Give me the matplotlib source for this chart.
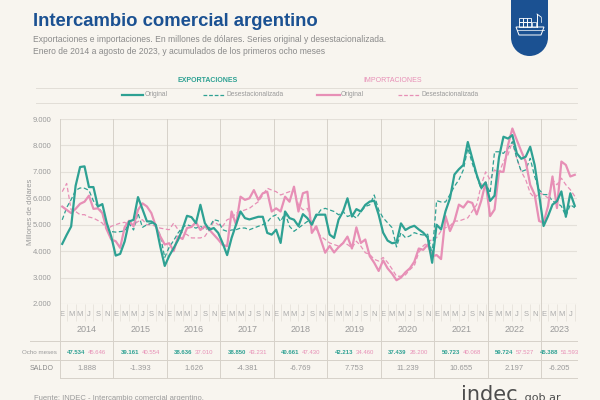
import numpy as np
import matplotlib
matplotlib.use("Agg")
import matplotlib.pyplot as plt
from matplotlib import transforms
from matplotlib.patches import Polygon, Rectangle, Wedge

plt.rcParams['font.family'] = ['Liberation Sans', 'DejaVu Sans']

# ---------------- data ----------------
years = [2014, 2015, 2016, 2017, 2018, 2019, 2020, 2021, 2022, 2023]
month_letters = ['E', 'F', 'M', 'A', 'M', 'J', 'J', 'A', 'S', 'O', 'N', 'D']

expo = [
    4275, 4617, 4933, 6470, 7183, 7208, 6424, 6424, 5690, 5780, 5060, 4553,
    3832, 3896, 4364, 5121, 5185, 6045, 5590, 5128, 5121, 4996, 4174, 3441,
    3820, 4112, 4427, 4840, 5337, 5286, 5060, 5754, 5060, 4810, 4875, 4690,
    4300, 3850, 4500, 5000, 5500, 5250, 5200, 5250, 5300, 5300, 4690, 4625,
    4810, 4310, 5500, 5250, 5190, 4950, 5400, 5250, 5000, 5380, 5380, 5380,
    4625, 4500, 5190, 5500, 6000, 5310, 5590, 5500, 5750, 5875, 5910, 5380,
    4700, 4400, 4300, 4330, 5050, 4800, 4900, 4960, 4820, 4700, 4510, 3560,
    5000, 4820, 5510, 6000, 6900, 7100, 7260, 8130, 7510, 6890, 6400, 6600,
    5900, 6100, 7550, 8330, 8260, 8390, 7700, 7494, 7575, 7950, 7260, 6140,
    4950, 5325, 5760, 5890, 6260, 5300, 6190, 5713]

expo_d = [
    5185, 5650, 5950, 6300, 6390, 6380, 6300, 5900, 5690, 5440, 4810, 4740,
    4720, 4740, 4760, 5050, 4800, 5440, 4900, 5000, 5060, 4940, 4600, 3760,
    4150, 4400, 4690, 4900, 5000, 4940, 4870, 4950, 4810, 4900, 5190, 5150,
    4810, 4750, 4800, 4810, 4875, 4875, 4810, 4875, 4940, 5000, 5100, 5300,
    5375, 5125, 5440, 4940, 4750, 4875, 5000, 5125, 5060, 5310, 5560, 5620,
    5560, 5500, 5375, 5500, 5310, 5375, 5250, 5500, 5690, 5750, 6125, 5560,
    5260, 5075, 4890, 4160, 4700, 4510, 4575, 4700, 4640, 4610, 4640, 3890,
    5910, 5860, 5860, 6140, 6450, 6700, 7075, 7890, 7325, 6825, 6350, 6600,
    6200, 7760, 7760, 7700, 7890, 8140, 7510, 7010, 7075, 7510, 6825, 6325,
    6140, 6140, 5890, 5825, 5700, 5325, 5760, 5640]

impo = [
    5686, 5560, 5440, 5600, 5790, 5870, 6100, 5600, 5620, 5440, 4810, 4440,
    4375, 4125, 4900, 5150, 4940, 5560, 5810, 5690, 5440, 4940, 4560, 4250,
    4300, 4000, 4560, 4460, 4875, 4915, 5100, 4800, 4940, 4810, 4625, 4440,
    4231, 4190, 5500, 5000, 6060, 5940, 6000, 6310, 5940, 6190, 6250, 5500,
    5620, 5500, 6060, 5870, 6440, 5500, 6190, 6250, 4690, 4940, 4440, 3940,
    4200, 3950, 4150, 4300, 4550, 4100, 4900, 4310, 4440, 3810, 3560, 3250,
    3650, 3350, 3150, 2900, 3000, 3200, 3350, 3600, 4100, 4050, 4250, 3800,
    3853, 3700, 5325, 4760, 5140, 5760, 5650, 5880, 5825, 5390, 5900, 6600,
    5325, 5575, 7010, 7000, 8000, 8640, 8200, 7777, 7390, 6510, 6140, 5140,
    5075, 5700, 6825, 5630, 7390, 7260, 6825, 6888]

impo_d = [
    6250, 6560, 5560, 5500, 5380, 5380, 5290, 5250, 5160, 5060, 4810, 4940,
    5000, 5060, 5090, 5000, 5000, 5120, 5190, 5000, 5000, 4940, 4870, 4840,
    4810, 5060, 4810, 4700, 4625, 4500, 4500, 4500, 4560, 4800, 5120, 5000,
    4940, 5190, 5250, 5440, 5500, 5560, 5620, 5750, 5870, 6125, 6380, 6310,
    6250, 6125, 6190, 6250, 6310, 5750, 5560, 5620, 5125, 4810, 4560, 4440,
    4310, 4250, 4190, 4310, 4250, 4125, 4375, 4190, 3940, 3875, 3690, 3625,
    3760, 3575, 3325, 3050, 3050, 3100, 3300, 3450, 3950, 4200, 4325, 4450,
    4510, 4760, 4890, 4950, 5140, 5140, 5200, 5260, 5510, 5760, 6500, 7000,
    6700, 7075, 6950, 7390, 7640, 8140, 7510, 7010, 6700, 6200, 6010, 6200,
    6140, 6010, 6700, 6510, 6760, 6510, 6325, 6075]

ocho_expo = ['47.534', '39.161', '38.636', '38.850', '40.661', '42.213', '37.439', '50.723', '59.724', '45.388']
ocho_impo = ['45.646', '40.554', '37.010', '43.231', '47.430', '34.460', '26.200', '40.068', '57.527', '51.593']
saldo = ['1.888', '-1.393', '1.626', '-4.381', '-6.769', '7.753', '11.239', '10.655', '2.197', '-6.205']

# ---------------- style ----------------
BG = '#f8f5ef'
TEAL = '#2ea193'
PINK = '#e78fb6'
BLUE = '#1b5192'
GRID = '#e4e0d9'
VGRID = '#d6d1c9'
GRAY = '#9a9a9a'

W, H = 600, 400
fig = plt.figure(figsize=(6, 4), dpi=100, facecolor=BG)

# overlay in pixel coordinates for decorative layout
ov = fig.add_axes([0, 0, 1, 1], zorder=0)
ov.set_xlim(0, W)
ov.set_ylim(H, 0)
ov.axis('off')
ov.set_facecolor('none')

ax = fig.add_axes([60 / W, 1 - 304 / H, 517 / W, 185 / H], zorder=2)
ax.set_facecolor('none')
n = len(expo)
x = np.arange(n)
ax.set_xlim(-0.5, 115.5)
ax.set_ylim(2000, 9000)

ax.plot(x, impo_d, color=PINK, lw=0.9, dashes=(3.5, 2), zorder=3)
ax.plot(x, expo_d, color=TEAL, lw=0.9, dashes=(3.5, 2), zorder=3)
ax.plot(x, impo, color=PINK, lw=1.6, zorder=4)
ax.plot(x, expo, color=TEAL, lw=1.6, zorder=5)

for s in ax.spines.values():
    s.set_visible(False)

yt = list(range(2000, 9001, 1000))
ax.set_yticks(yt)
ax.set_yticklabels([f"{v:,}".replace(',', '.') for v in yt])
ax.yaxis.grid(True, color=GRID, lw=0.8)
ax.set_axisbelow(True)
ax.tick_params(axis='y', length=0, pad=6, labelsize=5.5, labelcolor=GRAY)

major = [i for i in range(n) if i % 2 == 0]
minor = [i for i in range(n) if i % 2 == 1]
ax.set_xticks(major)
ax.set_xticklabels([month_letters[i % 12] for i in major])
ax.set_xticks(minor, minor=True)
ax.tick_params(axis='x', which='major', length=0, pad=5, labelsize=5.5, labelcolor='#aaaaaa')
ax.tick_params(axis='x', which='minor', length=12, width=0.5, color='#e3dfd8')

# vertical year separators running down through the table
bot = (304 - 378) / 185
for k in range(len(years)):
    ax.axvline(12 * k - 0.5, ymin=bot, ymax=1, clip_on=False, color=VGRID, lw=0.7, zorder=1)

blend = transforms.blended_transform_factory(ax.transData, ov.transData)
num_font = ['Liberation Sans Narrow', 'Liberation Sans']
for k, yr in enumerate(years):
    start = 12 * k - 0.5
    end = min(12 * k + 11.5, 115.5)
    cx = (start + end) / 2
    ax.text(cx, 330, str(yr), transform=blend, ha='center', va='center',
            fontsize=6.5, color=GRAY)
    ax.text(cx - 0.25, 352, ocho_expo[k], transform=blend, ha='right', va='center',
            fontsize=4.3, color=TEAL, fontweight='bold', family=num_font)
    ax.text(cx + 0.35, 352, ocho_impo[k], transform=blend, ha='left', va='center',
            fontsize=4.3, color=PINK, family=num_font)
    ax.text(cx, 369, saldo[k], transform=blend, ha='center', va='center',
            fontsize=5.5, color=GRAY)

# table lines
ov.plot([30, 577], [341, 341], color=VGRID, lw=0.7)
ov.plot([30, 577], [360, 360], color=VGRID, lw=0.7)
ov.plot([60, 577], [378, 378], color=VGRID, lw=0.7)
ov.text(57, 352, 'Ocho meses', ha='right', va='center', fontsize=4.5, color=GRAY,
        family=num_font)
ov.text(42, 369, 'SALDO', ha='center', va='center', fontsize=5, color='#8a8a8a')

# y label
ov.text(31, 212, 'Millones de dólares', rotation=90, ha='center', va='center',
        fontsize=5.5, color=GRAY)

# title & subtitle
ov.text(33, 22, 'Intercambio comercial argentino', ha='left', va='center',
        fontsize=13.3, fontweight='bold', color=BLUE)
ov.text(33, 39.5, 'Exportaciones e importaciones. En millones de dólares. Series original y desestacionalizada.',
        ha='left', va='center', fontsize=6.15, color='#8a8a8a')
ov.text(33, 51, 'Enero de 2014 a agosto de 2023, y acumulados de los primeros ocho meses',
        ha='left', va='center', fontsize=6.15, color='#8a8a8a')

# legend block
ov.text(208, 80, 'EXPORTACIONES', ha='center', va='center', fontsize=5, fontweight='bold', color=TEAL)
ov.text(393, 80, 'IMPORTACIONES', ha='center', va='center', fontsize=5, color=PINK)
ov.plot([36, 577], [87.5, 87.5], color='#e2ded7', lw=0.7)
ov.plot([36, 577], [103, 103], color='#e2ded7', lw=0.7)
ov.plot([122, 143], [95, 95], color=TEAL, lw=1.6)
ov.text(145, 95, 'Original', ha='left', va='center', fontsize=4.8, color=GRAY)
ov.plot([203, 225], [95, 95], color=TEAL, lw=0.9, dashes=(3, 1.5))
ov.text(226.5, 95, 'Desestacionalizada', ha='left', va='center', fontsize=4.8, color=GRAY)
ov.plot([317, 340], [95, 95], color=PINK, lw=1.6)
ov.text(341, 95, 'Original', ha='left', va='center', fontsize=4.8, color=GRAY)
ov.plot([398, 420], [95, 95], color=PINK, lw=0.9, dashes=(3, 1.5))
ov.text(421.5, 95, 'Desestacionalizada', ha='left', va='center', fontsize=4.8, color=GRAY)

# badge with ship icon
ov.add_patch(Rectangle((511, -1), 37, 39, color=BLUE, lw=0))
ov.add_patch(Wedge((529.5, 37.5), 18.5, 0, 180, color=BLUE, lw=0))
ov.add_patch(Wedge((529.5, 37.5), 18.5, 180, 360, color=BLUE, lw=0))
wc = 'white'
for cx0 in (519, 523, 527):
    for cy0 in (17.5, 22):
        ov.add_patch(Rectangle((cx0, cy0), 4, 4.5, fill=False, ec=wc, lw=0.6))
ov.add_patch(Polygon([(516, 27), (544, 27), (541, 35), (519, 35)], closed=True,
                     fill=False, ec=wc, lw=0.7))
ov.plot([516.5, 543.5], [30, 30], color=wc, lw=0.5)
ov.plot([537, 537], [14, 27], color=wc, lw=0.7)
ov.plot([537, 541], [14, 17], color=wc, lw=0.6)
ov.plot([541, 541], [17, 22], color=wc, lw=0.5)
ov.add_patch(Rectangle((532, 22), 4, 5, fill=False, ec=wc, lw=0.5))

# footer (cut by the bottom edge, as in the reference)
ov.text(34, 398, 'Fuente: INDEC - Intercambio comercial argentino.', ha='left', va='center',
        fontsize=5.5, color=GRAY)
ov.text(461, 401, 'indec', ha='left', va='baseline', fontsize=15, color='#4d4d4d',
        family=['DejaVu Sans'])
ov.text(522, 401, '.gob.ar', ha='left', va='baseline', fontsize=8, color='#4d4d4d',
        family=['DejaVu Sans'])

fig.savefig('out.png', dpi=100, facecolor=BG)
